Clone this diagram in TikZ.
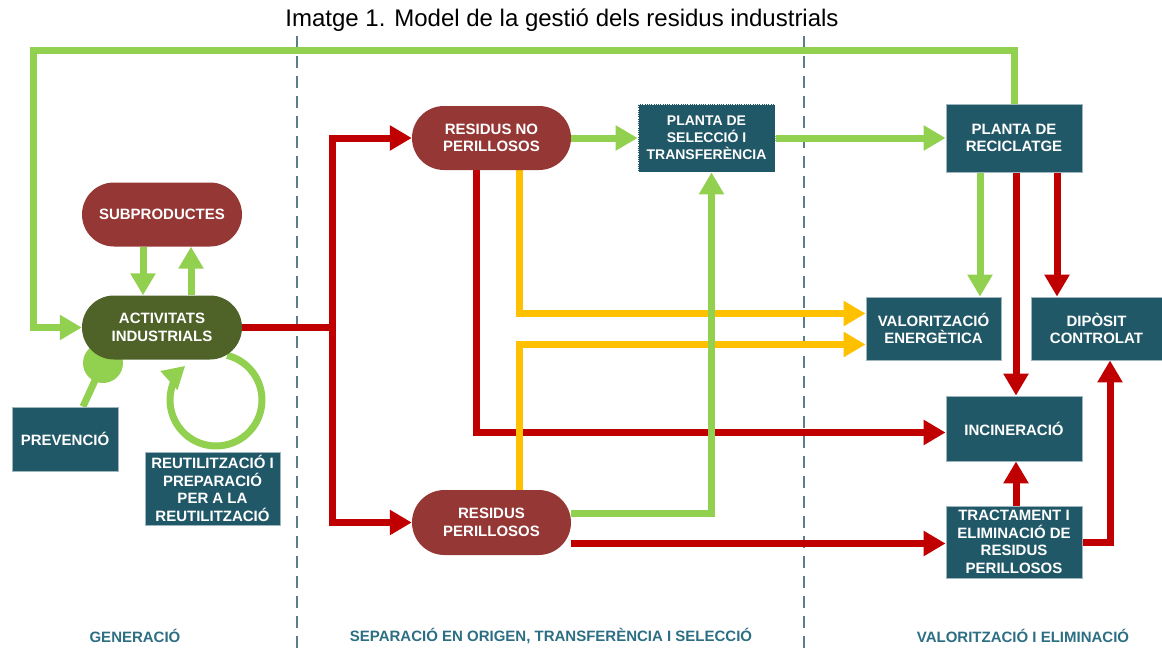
\documentclass[tikz,border=0pt]{standalone}
\usepackage{fontspec}
\setmainfont{Liberation Sans}
\usetikzlibrary{arrows.meta,shapes.misc,backgrounds}
\definecolor{pillred}{HTML}{953735}
\definecolor{pillgreen}{HTML}{4F6228}
\definecolor{tealfill}{HTML}{215868}
\definecolor{tealedge}{HTML}{9FB6BE}
\definecolor{lgreen}{HTML}{92D050}
\definecolor{dred}{HTML}{C00000}
\definecolor{amber}{HTML}{FFC000}
\definecolor{sepgray}{HTML}{5A7E8A}
\definecolor{labteal}{HTML}{2C6E82}
\def\nodefont{\bfseries\fontsize{15}{17.5}\selectfont}
\tikzset{
	pill/.style={rounded rectangle, fill=#1, text=white, font=\nodefont, align=center, minimum width=160, minimum height=64, inner sep=0pt},
	tealbox/.style={rectangle, fill=tealfill, draw=tealedge, line width=0.8pt, text=white, font=\nodefont, align=center, inner sep=0pt},
	flow/.style={line width=7pt},
	gflow/.style={flow, color=lgreen},
	rflow/.style={flow, color=dred},
	yflow/.style={flow, color=amber},
	arrowtip/.style={-{Triangle[length=22pt,width=24pt]}},
	sepline/.style={line width=1.8pt, color=sepgray, dash pattern=on 12pt off 8pt},
	etiqueta/.style={text=labteal, font=\bfseries\fontsize{15}{17}\selectfont}
}

\begin{document}
\begin{tikzpicture}[x=1pt,y=-1pt]
			%%%%% START %%%%%
			\useasboundingbox (0,0) rectangle (1162,651);
			
			\node[font=\fontsize{24}{28}\selectfont] (titol) at (562,20) {Imatge 1. Model de la gestió dels residus industrials};
			
			% generacio
			\node[pill=pillred] (subp) at (162,214.5) {SUBPRODUCTES};
			\node[pill=pillgreen] (activ) at (162,327.5) {ACTIVITATS\\INDUSTRIALS};
			\node[tealbox, minimum width=106, minimum height=64] (prev) at (65,439) {PREVENCIÓ};
			\node[tealbox, minimum width=135, minimum height=73] (reut) at (212.5,488.5) {REUTILITZACIÓ I\\PREPARACIÓ\\PER A LA\\REUTILITZACIÓ};
			
			% separacio
			\node[pill=pillred, minimum width=159] (rnp) at (491.5,138) {RESIDUS NO\\PERILLOSOS};
			\node[pill=pillred, minimum width=159, minimum height=65] (rp) at (491.5,522.5) {RESIDUS\\PERILLOSOS};
			\node[tealbox, draw=white, densely dotted, font=\bfseries\fontsize{14}{17}\selectfont, minimum width=137, minimum height=68] (sel) at (706.5,138) {PLANTA DE\\SELECCIÓ I\\TRANSFERÈNCIA};
			
			% valoritzacio
			\node[tealbox, minimum width=136, minimum height=68] (rec) at (1014,138) {PLANTA DE\\RECICLATGE};
			\node[tealbox, minimum width=135, minimum height=63] (val) at (933.5,328.5) {VALORITZACIÓ\\ENERGÈTICA};
			\node[tealbox, minimum width=131, minimum height=63] (dip) at (1096.5,328.5) {DIPÒSIT\\CONTROLAT};
			\node[tealbox, minimum width=136, minimum height=65] (inc) at (1014,428.5) {INCINERACIÓ};
			\node[tealbox, minimum width=136, minimum height=72] (trac) at (1014,542) {TRACTAMENT I\\ELIMINACIÓ DE\\RESIDUS\\PERILLOSOS};
			
			\node[etiqueta] (gen) at (135,636) {GENERACIÓ};
			\node[etiqueta] (sep) at (551,636) {SEPARACIÓ EN ORIGEN, TRANSFERÈNCIA I SELECCIÓ};
			\node[etiqueta] (valel) at (1023,636) {VALORITZACIÓ I ELIMINACIÓ};
			
			\begin{scope}[on background layer]
			\draw[sepline] (297,36) -- (297,651);
			\draw[sepline] (804,36) -- (804,651);
			
			% bucle superior
			\coordinate (ltop) at (33,50);
			\draw[gflow, arrowtip] (rec.north) |- (ltop) |- (activ.west);
			\draw[gflow, arrowtip] ([xshift=-19]subp.south) -- ([xshift=-19]activ.north);
			\draw[gflow, arrowtip] ([xshift=29]activ.north) -- ([xshift=29]subp.south);
			
			\coordinate (prevdot) at (103,363);
			\fill[lgreen] (prevdot) circle (20);
			\draw[gflow] ([xshift=18]prev.north) -- (prevdot);
			\draw[gflow, arrowtip] (216,400) ++(-76:46) arc[start angle=-76, end angle=228, radius=46];
			
			% residus
			\coordinate (rsplit) at (332,327.5);
			\draw[rflow] (activ.east) -- (rsplit);
			\draw[rflow, arrowtip] (rsplit) |- (rnp.west);
			\draw[rflow, arrowtip] (rsplit) |- (rp.west);
			
			\draw[gflow, arrowtip] (rnp.east) -- (sel.west);
			\draw[gflow, arrowtip] (sel.east) -- (rec.west);
			\draw[rflow, arrowtip] ([xshift=-15]rnp.south) |- ([yshift=-4]inc.west);
			\draw[yflow, arrowtip] ([xshift=28]rnp.south) |- ([yshift=15]val.west);
			\draw[yflow, arrowtip] ([xshift=28]rp.north) |- ([yshift=-16]val.west);
			\draw[gflow, arrowtip] ([yshift=9]rp.east) -| ([xshift=5]sel.south);
			\draw[rflow, arrowtip] ([yshift=-21]rp.east) -- ([yshift=-21]rp.east -| trac.west);
			
			\draw[gflow, arrowtip] ([xshift=-34]rec.south) -- ([xshift=-34]rec.south |- val.north);
			\draw[rflow, arrowtip] ([xshift=2]rec.south) -- ([xshift=2]inc.north);
			\draw[rflow, arrowtip] ([xshift=43]rec.south) -- ([xshift=43]rec.south |- dip.north);
			\draw[rflow, arrowtip] ([xshift=2]trac.north) -- ([xshift=2]inc.south);
			\draw[rflow, arrowtip] (trac.east) -| ([xshift=13.5]dip.south);
			\end{scope}
			%%%%% END %%%%%
\end{tikzpicture}
\end{document}
